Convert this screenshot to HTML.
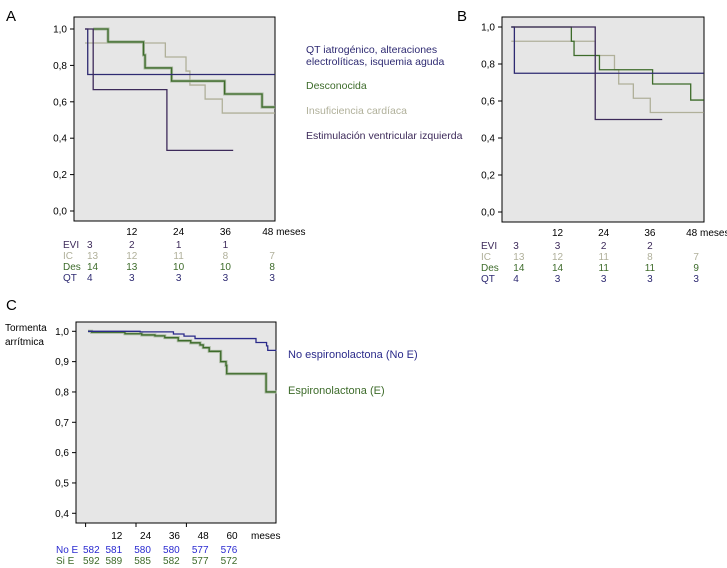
<!DOCTYPE html>
<html><head><meta charset="utf-8"><style>
html,body{margin:0;padding:0;background:#fff;}
svg{display:block;font-family:"Liberation Sans",sans-serif;}
</style></head><body>
<svg id="s" width="727" height="568" viewBox="0 0 727 568" xmlns="http://www.w3.org/2000/svg">
<text x="6" y="21" font-size="15">A</text>
<text x="457" y="21" font-size="15">B</text>
<text x="6" y="310" font-size="15">C</text>
<text x="5" y="331" font-size="10">Tormenta</text>
<text x="5" y="345" font-size="10">arrítmica</text>
<g font-size="10.5">
<text x="306" y="53" fill="#2e2a72">QT iatrogénico, alteraciones</text>
<text x="306" y="65" fill="#2e2a72">electrolíticas, isquemia aguda</text>
<text x="306" y="89" fill="#3d6b2a">Desconocida</text>
<text x="306" y="114" fill="#b0b09a">Insuficiencia cardíaca</text>
<text x="306" y="139" fill="#3d2a5a">Estimulación ventricular izquierda</text>
</g>
<text x="288" y="358" font-size="11" fill="#2a2a8a">No espironolactona (No E)</text>
<text x="288" y="394" font-size="11" fill="#3d6b2a">Espironolactona (E)</text>
</svg>
<script>
// Panel A data
const aEviT=[0,2.1,21,38], aEviS=[1,0.667,0.333,0.333];
const aQtT=[0,0.7,48.7], aQtS=[1,0.75,0.75];
const aDesT=[2.1,5.9,15,15.4,22.2,35.8,45.4,48.7], aDesS=[1,0.929,0.857,0.786,0.714,0.643,0.571,0.571];
const aIcT=[0,20.6,25.9,26.9,30.8,35.2,48.7], aIcS=[0.923,0.846,0.769,0.692,0.615,0.538,0.538];
// Panel B data
const bEviT=[0,21.8,39.2], bEviS=[1,0.5,0.5];
const bQtT=[0,0.8,50], bQtS=[1,0.75,0.75];
const bDesT=[0,15.6,16.3,22.9,36.7,46.6,50], bDesS=[1,0.923,0.846,0.769,0.692,0.605,0.605];
const bIcT=[0,21.8,26.8,27.9,31.7,36.1,50], bIcS=[0.923,0.846,0.769,0.692,0.615,0.538,0.538];
// Panel C data
const cNoT=[0,21.7,35.6,40,44.6,70,74.4,74.9,78.5], cNoS=[1,0.998,0.991,0.984,0.976,0.963,0.952,0.937,0.937];
const cET=[0,1.5,15.4,22.4,27.9,32,37.6,42.8,46.7,48,50.5,55.3,57.5,57.8,74.2,78.5], cES=[1,0.997,0.992,0.988,0.985,0.979,0.969,0.962,0.955,0.946,0.934,0.9,0.887,0.86,0.8,0.8];
// tick labels
const abYTicks=[0,0.2,0.4,0.6,0.8,1.0];
const cYTicks=[0.4,0.5,0.6,0.7,0.8,0.9,1.0];
const abXTicks=[12,24,36,48];
const cXTicks=[12,24,36,48,60];
const riskTimes=[0,12,24,36,48];
const riskTimesC=[0,12,24,36,48,60];
const aRisk={EVI:[3,2,1,1,""],IC:[13,12,11,8,7],Des:[14,13,10,10,8],QT:[4,3,3,3,3]};
const bRisk={EVI:[3,3,2,2,""],IC:[13,12,11,8,7],Des:[14,14,11,11,9],QT:[4,3,3,3,3]};
const cRiskNo=[582,581,580,580,577,576];
const cRiskSi=[592,589,585,582,577,572];

const NS="http://www.w3.org/2000/svg", svg=document.getElementById('s');
function mk(tag,attrs,parent){const e=document.createElementNS(NS,tag);for(const k in attrs)e.setAttribute(k,attrs[k]);(parent||svg).appendChild(e);return e;}
function txt(x,y,s,attrs){const e=mk('text',Object.assign({x:x,y:y,'font-size':10},attrs||{}));e.textContent=s;return e;}
const C={evi:'#3d2a5a',qt:'#2e2a72',des:'#3d6b2a',ic:'#b0b09a',no:'#2a2a8a'};
function stepPath(T,S,xs,ys){let d='M'+xs(T[0])+','+ys(S[0]);for(let i=1;i<T.length;i++){d+=' H'+xs(T[i])+' V'+ys(S[i]);}return d;}
function curve(T,S,xs,ys,col,name,halo){
  if(halo){const h=mk('path',{d:stepPath(T,S,xs,ys),fill:'none',stroke:'#a8b8a0','stroke-width':3});

}
  const p=mk('path',{d:stepPath(T,S,xs,ys),fill:'none',stroke:col,'stroke-width':1.3});
  
  
}
function panelAB(px0,px1,py0,py1,x0,xk,y1,y0,data,risk,pre,lblX){
  const xs=t=>x0+t*xk, ys=v=>y0+(y1-y0)*v;
  const r=mk('rect',{x:px0,y:py0,width:px1-px0,height:py1-py0,fill:'#e6e6e6',stroke:'#000','stroke-width':1});
  
  
  abYTicks.forEach(v=>{
    const l=mk('line',{x1:px0-4,x2:px0,y1:ys(v),y2:ys(v),stroke:'#000'});
    
    
    const t=txt(px0-7,ys(v)+3.5,v.toFixed(1).replace('.',','),{'text-anchor':'end'});
    
    
  });
  abXTicks.forEach(v=>{
    const t=txt(xs(v),py1+14,v===48?'48 meses':String(v),{'text-anchor':v===48?'start':'middle',dx:v===48?-10:0});
    
    
  });
  data.forEach(d=>curve(d[0],d[1],xs,ys,d[2],pre+'-'+d[3],d[4]));
  const rows=[['EVI',C.evi],['IC',C.ic],['Des',C.des],['QT',C.qt]];
  rows.forEach((rw,i)=>{
    const y=py1+27+i*11;
    const t=txt(lblX,y,rw[0],{fill:rw[1]});
    
    
    risk[rw[0]].forEach((n,j)=>{
      const v=txt(xs(riskTimes[j])+(j===0?2:0),y,String(n),{fill:rw[1],'text-anchor':j===0?'start':'middle'});
      
      
    });
  });
}
panelAB(74,275,17,221,85,3.9,29,211,[[aIcT,aIcS,C.ic,'ic-curve'],[aDesT,aDesS,C.des,'des-curve',true],[aQtT,aQtS,C.qt,'qt-curve'],[aEviT,aEviS,C.evi,'evi-curve']],aRisk,'panel-a',63);
panelAB(502,704,17,222,511.3,3.85,27,212,[[bIcT,bIcS,C.ic,'ic-curve'],[bDesT,bDesS,C.des,'des-curve'],[bQtT,bQtS,C.qt,'qt-curve'],[bEviT,bEviS,C.evi,'evi-curve']],bRisk,'panel-b',481);

// Panel C
(function(){
  const px0=76,px1=276,py0=322,py1=523;
  const xs=t=>88+t*2.4, ys=v=>331.3+(1-v)*303.3;
  const r=mk('rect',{x:px0,y:py0,width:px1-px0,height:py1-py0,fill:'#e6e6e6',stroke:'#000','stroke-width':1});
  
  
  cYTicks.forEach(v=>{
    const l=mk('line',{x1:px0-4,x2:px0,y1:ys(v),y2:ys(v),stroke:'#000'});
    
    
    const t=txt(px0-7,ys(v)+3.5,v.toFixed(1).replace('.',','),{'text-anchor':'end'});
    
    
  });
  [-1,20,41].forEach(t=>{
    const l=mk('line',{x1:xs(t),x2:xs(t),y1:py1,y2:py1+4,stroke:'#000'});
    
    
  });
  cXTicks.forEach(v=>{
    const t=txt(xs(v),py1+16,String(v),{'text-anchor':'middle'});
    
    
  });
  const m=txt(251,py1+16,'meses');
  
  
  curve(cET,cES,xs,ys,C.des,'panel-c-e-curve',true);
  curve(cNoT,cNoS,xs,ys,C.no,'panel-c-no-e-curve');
  [['No E',cRiskNo,'#2a2ad0'],['Si E',cRiskSi,C.des]].forEach((rw,i)=>{
    const y=553+i*11;
    const t=txt(56,y,rw[0],{fill:rw[2]});
    
    
    rw[1].forEach((n,j)=>{
      const v=txt(j===0?83:xs(riskTimesC[j])-3,y,String(n),{fill:rw[2],'text-anchor':j===0?'start':'middle'});
      
      
    });
  });
})();
</script>
</body></html>
